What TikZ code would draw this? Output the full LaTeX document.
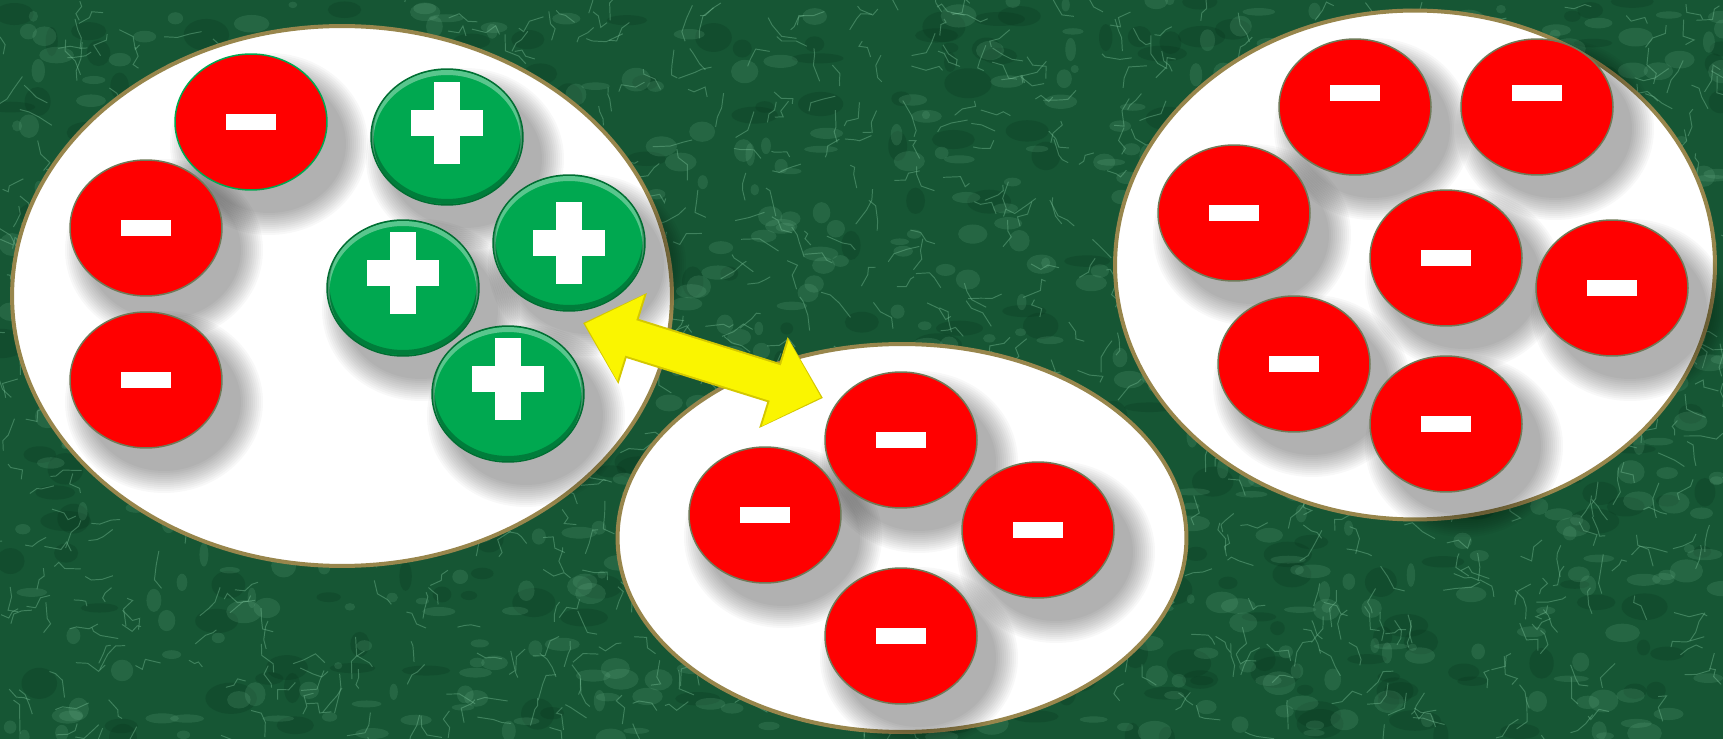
\documentclass[tikz,border=0pt]{standalone}
\usepackage{xcolor}
\usetikzlibrary{arrows, arrows.meta}
\usetikzlibrary{shapes.geometric}

\definecolor{marble}{RGB}{22,86,52}
\definecolor{veingreen}{RGB}{120,190,150}
\definecolor{deepgreen}{RGB}{6,48,26}
\definecolor{rim}{RGB}{152,134,76}
\definecolor{ballred}{RGB}{255,0,0}
\definecolor{redrim}{RGB}{112,122,88}
\definecolor{ballgreen}{RGB}{0,168,80}
\definecolor{greenrim}{RGB}{0,110,50}
\definecolor{arrowyellow}{RGB}{250,245,0}
\definecolor{arrowdark}{RGB}{212,200,0}

\pgfdeclarelayer{back}
\pgfdeclarelayer{shade}
\pgfsetlayers{back,shade,main}

\tikzset{
  cluster/.style={ellipse, draw=rim, line width=0.08cm, fill=white, inner sep=0pt},
  ballshadow/.style={fill=black, fill opacity=0.026},
  ball/.style={ellipse, inner sep=0pt, minimum width=3.04cm, minimum height=2.72cm, line width=0.03cm,
    append after command={\pgfextra{\pgfinterruptpath
      \begin{pgfonlayer}{shade}
        \foreach \k in {0,...,11}
          \fill[ballshadow] ([shift={(0.36cm,-0.44cm)}]\tikzlastnode.center) ellipse [x radius={1.98cm-\k*0.04cm}, y radius={1.82cm-\k*0.04cm}];
      \end{pgfonlayer}
      \endpgfinterruptpath}}},
  anion/.style={ball, fill=ballred, draw=redrim,
    path picture={\fill[white] ([xshift=-0.5cm, yshift=-0.16cm+#1]path picture bounding box.center) rectangle ([xshift=0.5cm, yshift=0.16cm+#1]path picture bounding box.center);}},
  anion/.default=0cm,
  cation/.style={ball, fill=ballgreen, draw=greenrim,
    path picture={
      \draw[white, opacity=0.35, line width=0.1cm] ([yshift=-0.07cm]path picture bounding box.center) ellipse [x radius=1.52cm, y radius=1.36cm];
      \draw[black, opacity=0.25, line width=0.1cm] ([yshift=0.07cm]path picture bounding box.center) ellipse [x radius=1.52cm, y radius=1.36cm];
      \fill[white] ([xshift=-0.72cm, yshift=-0.26cm+#1]path picture bounding box.center) rectangle ([xshift=0.72cm, yshift=0.26cm+#1]path picture bounding box.center);
      \fill[white] ([xshift=-0.26cm, yshift=-0.82cm+#1]path picture bounding box.center) rectangle ([xshift=0.26cm, yshift=0.82cm+#1]path picture bounding box.center);}},
  cation/.default=0cm,
  exchange/.style={draw=arrowyellow, line width=0.74cm, {Triangle[length=0.96cm, width=1.74cm]}-{Triangle[length=0.96cm, width=1.74cm]}},
  exchange rim/.style={draw=arrowdark, line width=0.82cm, {Triangle[length=1.04cm, width=1.84cm]}-{Triangle[length=1.04cm, width=1.84cm]}},
  vein/.style={veingreen, opacity=0.42, line width=0.55pt},
  cloud/.style={fill=veingreen, opacity=0.16},
  blotch/.style={fill=deepgreen, opacity=0.22}
}

\begin{document}
\begin{tikzpicture}[x=0.02cm, y=-0.02cm]
      \useasboundingbox (0,0) rectangle (1723,739);
      \begin{pgfonlayer}{back}
      \fill[marble] (0,0) rectangle (1723,739);
      \begin{scope}
        \clip (0,0) rectangle (1723,739);
        \pgfmathsetseed{17}
        \foreach \i in {1,...,300}{
          \pgfmathsetmacro{\bx}{rnd*1723}
          \pgfmathsetmacro{\by}{rnd*739}
          \fill[blotch] (\bx,\by) ellipse [x radius={6+rnd*20}, y radius={4+rnd*12}];
        }
        \foreach \i in {1,...,750}{
          \pgfmathsetmacro{\cx}{rnd*1723}
          \pgfmathsetmacro{\cy}{rnd*739}
          \fill[cloud] (\cx,\cy) ellipse [x radius={4+rnd*14}, y radius={3+rnd*9}];
        }
        \foreach \i in {1,...,1100}{
          \pgfmathsetmacro{\vx}{rnd*1723}
          \pgfmathsetmacro{\vy}{rnd*739}
          \pgfmathsetmacro{\va}{rnd*360}
          \draw[vein] (\vx,\vy) -- ++(\va:{5+rnd*14}) -- ++({\va+rand*70}:{4+rnd*12}) -- ++({\va+rand*70}:{3+rnd*10});
        }
      \end{scope}

      \node[cluster, minimum width=13.2cm, minimum height=10.8cm] (g1) at (342,296) {};
      \node[cluster, minimum width=11.38cm, minimum height=7.76cm] (g2) at (902,538) {};
      \node[cluster, minimum width=12.0cm, minimum height=10.18cm] (g3) at (1415,265) {};
      \end{pgfonlayer}

      \node[anion, draw=ballgreen] (m1) at (251,122) {};
      \node[anion] (m2) at (146,228) {};
      \node[anion] (m3) at (146,380) {};
      \node[cation=0.28cm] (p1) at (447,137) {};
      \node[cation=0.3cm] (p2) at (403,288) {};
      \node[cation] (p3) at (569,243) {};
      \node[cation=0.3cm] (p4) at (508,394) {};

      \node[anion] (m4) at (901,440) {};
      \node[anion] (m5) at (765,515) {};
      \node[anion] (m6) at (1038,530) {};
      \node[anion] (m7) at (901,636) {};

      \node[anion=0.28cm] (m8) at (1355,107) {};
      \node[anion=0.28cm] (m9) at (1537,107) {};
      \node[anion] (m10) at (1234,213) {};
      \node[anion] (m11) at (1446,258) {};
      \node[anion] (m12) at (1612,288) {};
      \node[anion] (m13) at (1294,364) {};
      \node[anion] (m14) at (1446,424) {};

      \coordinate (aL) at (583,323);
      \coordinate (aR) at (823,398);
      \draw[exchange rim] (aL) -- (aR);
      \draw[exchange, shorten <=0.04cm, shorten >=0.04cm] (aL) -- (aR);
    \end{tikzpicture}
\end{document}
